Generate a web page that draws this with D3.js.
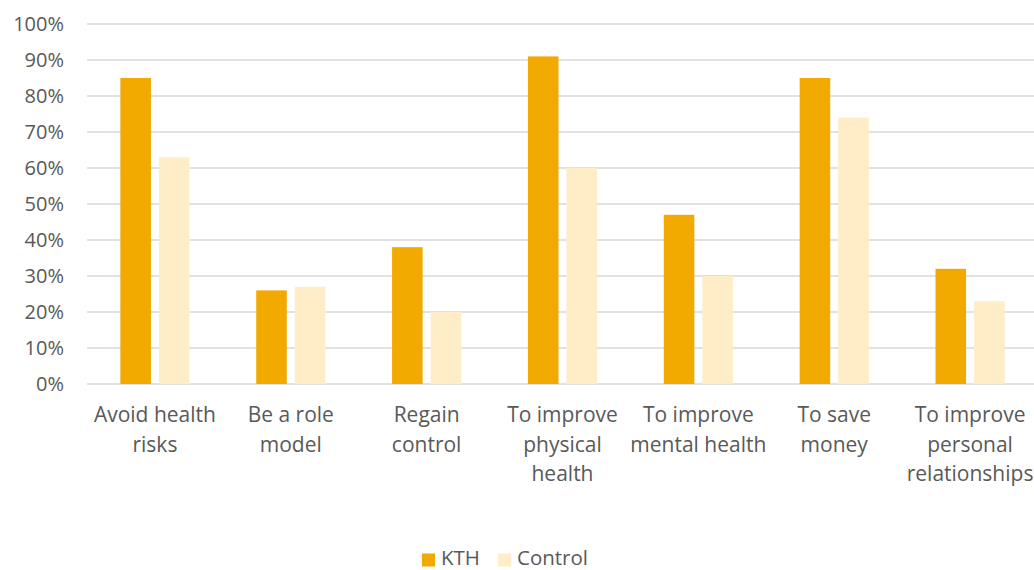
<!DOCTYPE html>
<html><head><meta charset="utf-8">
<script src="https://cdn.jsdelivr.net/npm/d3@7"></script>
<style>body{margin:0;background:#fff}svg{display:block}text{font-family:"Open Sans",Lato,sans-serif;fill:#595959}</style>
</head><body><svg id="c" width="1034" height="570"></svg>
<script>
const categories = [["Avoid health","risks"],["Be a role","model"],["Regain","control"],["To improve","physical","health"],["To improve","mental health"],["To save","money"],["To improve","personal","relationships"]];
const seriesNames = ["KTH","Control"];
const kth = [85,26,38,91,47,85,32];
const control = [63,27,20,60,30,74,23];
const yTicks = [0,10,20,30,40,50,60,70,80,90,100];
const colors = ["#F2AA00","#FEEDC6"];

(function(){
const svg = d3.select("#c");
const mLeft = 87, mRight = 1038, mTop = 24, mBottom = 384;
const x = d3.scaleBand().domain(d3.range(categories.length)).range([mLeft,mRight]).padding(0);
const y = d3.scaleLinear().domain([0,100]).range([mBottom,mTop]);
const bw = x.bandwidth()*0.225, gap = 8;

svg.append("g").selectAll("line").data(yTicks).join("line")
  .attr("x1",mLeft).attr("x2",1034).attr("y1",d=>y(d)).attr("y2",d=>y(d))
  .attr("stroke","#D9D9D9").attr("stroke-width",1.3);
svg.append("g").selectAll("text").data(yTicks).join("text")
  .attr("x",64).attr("y",d=>y(d)+7).attr("text-anchor","end").attr("font-size",20)
  .text(d=>d+"%");

const series = [kth, control];
series.forEach((vals,si)=>{
  svg.append("g").selectAll("rect").data(vals).join("rect")
    .attr("x",(d,i)=>x(i)+x.bandwidth()/2 + (si===0 ? -gap/2-bw : gap/2))
    .attr("width",bw)
    .attr("y",d=>y(d)).attr("height",d=>y(0)-y(d))
    .attr("fill",colors[si]);
});

const lab = svg.append("g").selectAll("text").data(categories).join("text")
  .attr("text-anchor","middle").attr("font-size",21);
lab.each(function(lines,i){
  d3.select(this).selectAll("tspan").data(lines).join("tspan")
    .attr("x",x(i)+x.bandwidth()/2).attr("y",(d,j)=>422+j*29.5).text(d=>d);
});

const leg = svg.append("g");
const legX = [422,498];
seriesNames.forEach((n,i)=>{
  leg.append("rect").attr("x",legX[i]).attr("y",553.5).attr("width",13).attr("height",13).attr("fill",colors[i]);
  leg.append("text").attr("x",legX[i]+19).attr("y",565).attr("font-size",20.5).text(n);
});
})();
</script></body></html>
